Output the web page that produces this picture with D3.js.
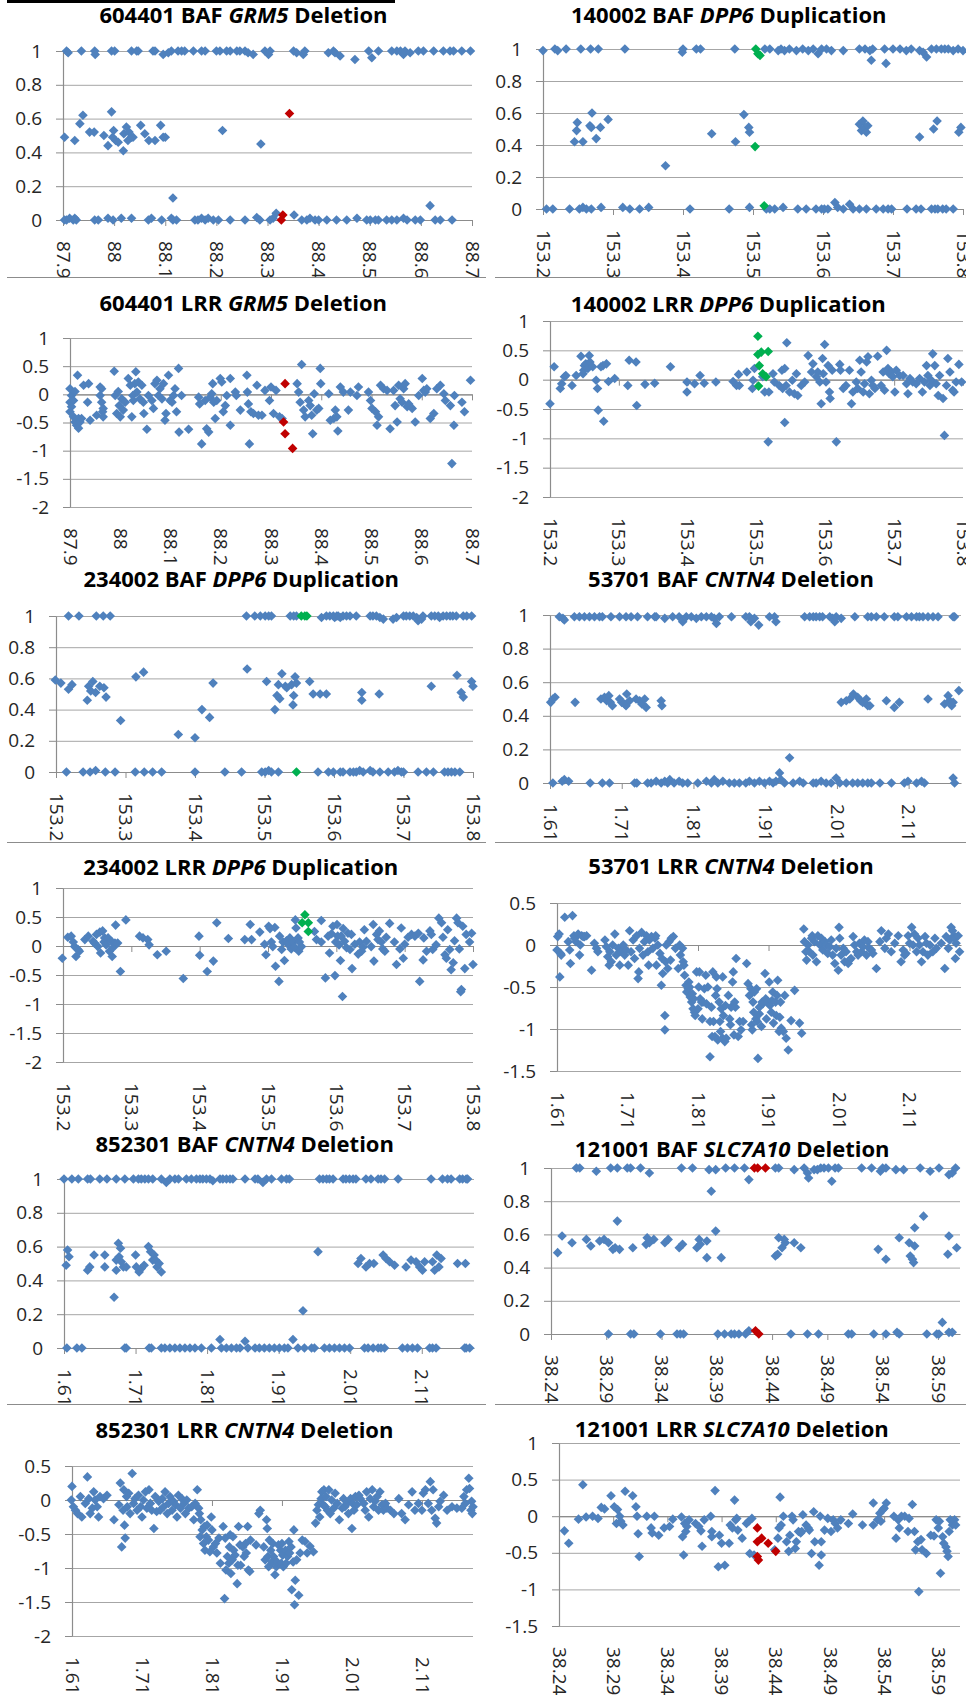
<!DOCTYPE html>
<html>
<head>
<meta charset="utf-8">
<script src="https://cdn.jsdelivr.net/npm/d3@7"></script>
<style>
  html, body { margin: 0; padding: 0; background: #fff; }
  svg { display: block; }
</style>
</head>
<body>
<svg id="fig" width="966" height="1696"></svg>
<script>
// ---------- tick values ----------
const ticksBAF = [0, 0.2, 0.4, 0.6, 0.8, 1];
const ticksLRR = [-2, -1.5, -1, -0.5, 0, 0.5, 1];
const ticksLRR53701 = [-1.5, -1, -0.5, 0, 0.5];
const ticksLRR852301 = [-2, -1.5, -1, -0.5, 0, 0.5];
const ticksLRR121001 = [-1.5, -1, -0.5, 0, 0.5, 1];
const ticksGRM5 = [87.9, 88, 88.1, 88.2, 88.3, 88.4, 88.5, 88.6, 88.7];
const ticksDPP6 = [153.2, 153.3, 153.4, 153.5, 153.6, 153.7, 153.8];
const ticksCNTN4 = [1.61, 1.71, 1.81, 1.91, 2.01, 2.11];
const ticksSLC7A10 = [38.24, 38.29, 38.34, 38.39, 38.44, 38.49, 38.54, 38.59];

// ---------- panel titles: [sample + metric, gene, event] ----------
const titles = [
  ["604401 BAF ", "GRM5", " Deletion"],
  ["140002 BAF ", "DPP6", " Duplication"],
  ["604401 LRR ", "GRM5", " Deletion"],
  ["140002 LRR ", "DPP6", " Duplication"],
  ["234002 BAF ", "DPP6", " Duplication"],
  ["53701 BAF ", "CNTN4", " Deletion"],
  ["234002 LRR ", "DPP6", " Duplication"],
  ["53701 LRR ", "CNTN4", " Deletion"],
  ["852301 BAF ", "CNTN4", " Deletion"],
  ["121001 BAF ", "SLC7A10", " Deletion"],
  ["852301 LRR ", "CNTN4", " Deletion"],
  ["121001 LRR ", "SLC7A10", " Deletion"]
];

// ---------- 604401 GRM5 (position Mb, value) ----------
const baf604401 = [
  [87.907,1],[87.910,0.99],[87.936,1],[87.962,1],[87.963,0.98],[87.995,1],[88.001,1],[88.034,1],[88.044,1],[88.047,1],[88.076,1],[88.080,1],[88.096,0.98],[88.106,0.99],[88.112,1],[88.125,1],[88.132,1],[88.138,1],[88.155,1],[88.171,1],[88.178,1],[88.200,1],[88.207,1],[88.220,1],[88.227,1],[88.240,1],[88.246,1],[88.256,1],[88.262,0.99],[88.272,0.98],[88.295,1],[88.302,0.98],[88.305,1],[88.351,1],[88.357,0.99],[88.370,0.98],[88.373,1],[88.419,0.99],[88.429,1],[88.432,0.99],[88.442,0.97],[88.471,0.95],[88.498,1],[88.504,0.96],[88.517,1],[88.543,1],[88.553,1],[88.560,1],[88.566,0.98],[88.569,1],[88.579,0.99],[88.595,1],[88.605,1],[88.625,1],[88.644,1],[88.657,1],[88.664,1],[88.680,1],[88.697,1],
  [87.903,0.49],[87.923,0.47],[87.933,0.57],[87.939,0.62],[87.952,0.52],[87.961,0.52],[87.980,0.50],[87.988,0.44],[87.995,0.64],[87.997,0.49],[87.999,0.53],[88.003,0.47],[88.008,0.46],[88.018,0.41],[88.019,0.51],[88.024,0.55],[88.027,0.47],[88.029,0.52],[88.034,0.49],[88.037,0.49],[88.052,0.56],[88.060,0.51],[88.068,0.47],[88.080,0.47],[88.091,0.56],[88.096,0.49],[88.100,0.49],[88.212,0.53],[88.287,0.45],[88.115,0.13],[88.317,0.04],[88.352,0.03],[88.618,0.085],
  [87.903,0],[87.907,0],[87.913,0.01],[87.920,0],[87.923,0.01],[87.926,0],[87.962,0],[87.969,0],[87.988,0.01],[87.998,0],[88.014,0.01],[88.034,0.01],[88.067,0],[88.073,0.01],[88.093,0],[88.112,0.01],[88.115,0],[88.122,0],[88.158,0],[88.164,0],[88.171,0.01],[88.178,0],[88.184,0.01],[88.194,0],[88.204,0],[88.227,0],[88.256,0],[88.279,0.015],[88.285,0],[88.305,0],[88.311,0.01],[88.367,0],[88.377,0],[88.383,0.01],[88.393,0],[88.400,0],[88.416,0],[88.435,0],[88.455,0],[88.475,0.01],[88.494,0],[88.501,0],[88.511,0],[88.517,0],[88.533,0],[88.543,0],[88.553,0],[88.566,0.01],[88.573,0],[88.589,0],[88.599,0],[88.628,0],[88.638,0],[88.661,0]
];
const baf604401Cnv = [[88.343,0.63],[88.330,0.03],[88.327,0]];

const lrr604401 = [
  [87.900,0.10],[87.903,-0.02],[87.900,-0.14],[87.903,-0.22],[87.900,-0.31],[87.907,-0.40],[87.910,-0.49],[87.913,-0.55],[87.917,-0.60],[87.910,0.05],[87.907,-0.11],[87.915,0.34],[87.917,-0.43],[87.920,-0.49],[87.923,-0.43],[87.927,0.16],[87.935,-0.14],[87.937,0.19],[87.940,-0.46],[87.953,-0.37],[87.960,-0.02],[87.963,0.10],[87.965,-0.31],[87.966,-0.40],[87.960,0.13],[87.963,-0.14],[87.966,-0.25],[87.988,0.41],[87.990,-0.02],[87.993,-0.34],[87.996,0.05],[87.998,-0.20],[88.000,-0.40],[88.003,-0.08],[88.006,-0.28],[88.010,-0.14],[88.016,0.28],[88.020,0.16],[88.023,-0.40],[88.025,-0.02],[88.026,-0.11],[88.029,0.19],[88.031,0.40],[88.033,0.04],[88.036,0.22],[88.039,-0.08],[88.043,0.16],[88.046,-0.14],[88.047,-0.34],[88.053,-0.62],[88.056,-0.02],[88.063,-0.11],[88.066,-0.25],[88.069,0.19],[88.073,0.25],[88.076,-0.02],[88.079,0.10],[88.083,-0.08],[88.086,0.19],[88.089,-0.46],[88.091,-0.34],[88.096,0.34],[88.099,-0.11],[88.103,-0.14],[88.106,-0.02],[88.109,0.10],[88.112,-0.31],[88.116,0.46],[88.117,-0.67],[88.122,-0.02],[88.136,-0.62],[88.156,-0.05],[88.158,-0.17],[88.162,-0.88],[88.169,-0.11],[88.172,-0.61],[88.176,-0.67],[88.179,-0.05],[88.182,0.01],[88.184,0.19],[88.186,-0.14],[88.189,-0.43],[88.192,-0.11],[88.199,0.28],[88.202,0.22],[88.205,-0.31],[88.209,-0.20],[88.212,-0.02],[88.219,0.28],[88.219,-0.55],[88.229,0.04],[88.231,-0.02],[88.239,-0.28],[88.252,0.34],[88.253,0.04],[88.255,-0.17],[88.257,-0.88],[88.260,-0.31],[88.265,-0.34],[88.272,0.16],[88.275,-0.37],[88.282,-0.37],[88.288,0.07],[88.297,-0.11],[88.300,0.13],[88.305,-0.34],[88.310,0.07],[88.317,-0.40],[88.322,-0.43],[88.352,0.19],[88.355,0.04],[88.358,-0.14],[88.361,0.53],[88.365,-0.28],[88.368,-0.40],[88.375,-0.11],[88.378,-0.20],[88.381,-0.37],[88.383,-0.70],[88.386,0.01],[88.391,-0.28],[88.395,-0.25],[88.398,0.46],[88.399,0.19],[88.415,0.01],[88.418,-0.46],[88.425,-0.43],[88.428,-0.28],[88.431,-0.40],[88.433,-0.65],[88.438,0.13],[88.444,0.04],[88.454,-0.28],[88.458,0.04],[88.471,-0.02],[88.474,0.13],[88.494,0.04],[88.498,-0.11],[88.501,-0.25],[88.508,-0.31],[88.511,-0.55],[88.514,-0.40],[88.518,0.16],[88.524,0.10],[88.531,0.07],[88.537,-0.61],[88.544,0.07],[88.547,-0.20],[88.551,-0.49],[88.554,0.16],[88.557,-0.08],[88.561,-0.14],[88.564,0.10],[88.567,0.19],[88.571,-0.22],[88.574,-0.17],[88.581,-0.25],[88.587,-0.49],[88.594,-0.02],[88.601,0.28],[88.604,0.07],[88.607,0.04],[88.610,0.10],[88.617,-0.43],[88.624,-0.34],[88.630,0.10],[88.637,0.16],[88.644,0.01],[88.647,-0.11],[88.657,-0.20],[88.660,-1.23],[88.664,-0.55],[88.665,-0.02],[88.680,-0.14],[88.685,-0.31],[88.697,0.25]
];
const lrr604401Cnv = [[88.325,-0.49],[88.328,0.19],[88.328,-0.70],[88.343,-0.96]];

// ---------- 140002 DPP6 ----------
const baf140002 = [
  [153.200,0.99],[153.217,1],[153.221,0.99],[153.233,1],[153.254,1],[153.268,1],[153.279,1],[153.317,1],[153.399,0.98],[153.400,1],[153.419,1],[153.425,1],[153.474,1],[153.517,1],[153.524,1],[153.536,0.99],[153.540,1],[153.545,0.99],[153.552,1],[153.562,0.99],[153.571,1],[153.579,0.99],[153.586,1],[153.593,0.97],[153.598,1],[153.605,1],[153.612,0.99],[153.629,0.99],[153.652,1],[153.660,1],[153.667,0.99],[153.669,0.93],[153.671,1],[153.688,1],[153.690,0.91],[153.700,1],[153.710,1],[153.719,0.99],[153.726,1],[153.738,0.99],[153.743,0.98],[153.748,0.95],[153.755,1],[153.762,1],[153.769,1],[153.774,1],[153.779,1],[153.786,0.99],[153.793,1],[153.800,0.99],
  [153.245,0.42],[153.248,0.49],[153.249,0.54],[153.257,0.42],[153.267,0.52],[153.269,0.51],[153.270,0.60],[153.276,0.44],[153.282,0.51],[153.293,0.56],[153.375,0.27],[153.441,0.47],[153.475,0.42],[153.487,0.59],[153.494,0.51],[153.495,0.48],[153.652,0.53],[153.655,0.49],[153.657,0.55],[153.660,0.51],[153.662,0.48],[153.664,0.52],[153.738,0.45],[153.758,0.50],[153.763,0.55],[153.794,0.48],[153.797,0.51],
  [153.205,0],[153.214,0],[153.238,0],[153.252,0],[153.257,0.01],[153.262,0],[153.269,0],[153.283,0.01],[153.314,0.01],[153.324,0],[153.338,0],[153.351,0.01],[153.410,0],[153.466,0],[153.495,0.01],[153.519,0],[153.524,0],[153.531,0],[153.543,0.01],[153.564,0],[153.576,0],[153.590,0],[153.598,0],[153.602,0],[153.607,0],[153.617,0.04],[153.621,0.01],[153.629,0],[153.638,0.03],[153.643,0],[153.652,0],[153.662,0],[153.676,0],[153.686,0],[153.693,0],[153.698,0],[153.720,0],[153.733,0],[153.740,0],[153.755,0],[153.760,0],[153.764,0],[153.771,0],[153.776,0],[153.786,0]
];
const baf140002Cnv = [[153.504,1],[153.507,0.97],[153.510,0.96],[153.503,0.39],[153.516,0.02]];

const lrr140002 = [
  [153.200,-0.41],[153.206,0.22],[153.215,-0.15],[153.217,-0.07],[153.221,0.05],[153.223,0.07],[153.232,-0.10],[153.238,0.07],[153.245,0.40],[153.248,0.10],[153.249,0.16],[153.250,0.24],[153.252,0.27],[153.255,0.19],[153.257,0.41],[153.258,0.30],[153.262,0.22],[153.267,-0.01],[153.269,-0.15],[153.270,-0.52],[153.274,0.22],[153.277,0.24],[153.278,-0.71],[153.282,0.27],[153.285,-0.03],[153.294,0.02],[153.313,-0.10],[153.315,0.33],[153.325,0.30],[153.326,-0.44],[153.338,-0.08],[153.352,-0.06],[153.375,0.22],[153.399,-0.04],[153.399,-0.21],[153.410,-0.07],[153.418,0.07],[153.424,-0.06],[153.441,-0.04],[153.466,-0.03],[153.471,-0.10],[153.474,0.09],[153.475,-0.10],[153.486,0.13],[153.494,-0.15],[153.495,-0.01],[153.497,0.19],[153.509,0.05],[153.512,-0.21],[153.517,-1.06],[153.518,-0.21],[153.524,0.10],[153.526,-0.04],[153.533,-0.10],[153.537,0.16],[153.538,-0.15],[153.541,0.19],[153.541,-0.73],[153.543,-0.10],[153.544,0.63],[153.548,-0.21],[153.552,-0.01],[153.555,-0.24],[153.558,0.10],[153.560,-0.27],[153.565,-0.10],[153.570,-0.04],[153.575,0.41],[153.580,0.13],[153.582,0.27],[153.587,0.05],[153.589,0.13],[153.592,-0.04],[153.594,-0.41],[153.596,0.36],[153.597,0.10],[153.599,0.60],[153.601,-0.04],[153.604,0.24],[153.606,-0.21],[153.607,-0.32],[153.610,0.16],[153.616,-1.06],[153.621,0.26],[153.622,0.16],[153.626,-0.15],[153.630,-0.10],[153.635,0.16],[153.638,-0.41],[153.640,-0.21],[153.645,-0.04],[153.647,-0.15],[153.650,0.33],[153.652,0.13],[153.655,-0.21],[153.657,-0.07],[153.660,0.30],[153.662,0.39],[153.664,-0.24],[153.667,-0.01],[153.669,-0.10],[153.672,-0.15],[153.676,0.40],[153.681,-0.10],[153.684,0.13],[153.686,-0.18],[153.689,0.50],[153.691,0.19],[153.693,0.10],[153.696,0.13],[153.698,0.05],[153.701,-0.21],[153.703,0.16],[153.708,0.07],[153.713,0.07],[153.718,-0.07],[153.720,-0.24],[153.723,0.02],[153.727,-0.04],[153.732,-0.07],[153.737,0.02],[153.741,-0.21],[153.744,-0.04],[153.747,0.24],[153.749,0.07],[153.752,-0.10],[153.754,-0.01],[153.756,0.44],[153.759,0.24],[153.761,-0.07],[153.764,-0.27],[153.766,0.07],[153.771,-0.32],[153.773,-0.95],[153.776,-0.10],[153.778,0.36],[153.781,0.13],[153.785,-0.18],[153.787,-0.21],[153.790,-0.04],[153.794,0.26],[153.798,-0.04]
];
const lrr140002Cnv = [[153.502,0.74],[153.502,0.43],[153.507,0.47],[153.517,0.48],[153.504,0.24],[153.509,0.10],[153.514,0.05],[153.503,-0.11]];

// ---------- 234002 DPP6 ----------
const baf234002 = [
  [153.218,1],[153.233,1],[153.258,1],[153.268,1],[153.278,1],[153.474,1],[153.486,1],[153.494,1],[153.501,1],[153.506,1],[153.510,1],[153.537,1],[153.542,1],[153.546,1],[153.582,0.99],[153.589,1],[153.594,1],[153.599,1],[153.601,0.99],[153.604,1],[153.606,1],[153.609,0.99],[153.613,1],[153.618,1],[153.623,1],[153.632,1],[153.652,1],[153.656,1],[153.661,1],[153.666,0.99],[153.671,0.98],[153.685,0.98],[153.690,0.99],[153.700,1],[153.704,1],[153.709,1],[153.714,1],[153.719,0.99],[153.721,0.97],[153.726,0.98],[153.728,1],[153.740,1],[153.745,1],[153.750,1],[153.752,0.99],[153.757,1],[153.762,1],[153.767,1],[153.771,1],[153.776,1],[153.786,1],[153.791,1],[153.798,1],
  [153.199,0.59],[153.207,0.57],[153.218,0.53],[153.223,0.56],[153.245,0.46],[153.247,0.55],[153.250,0.52],[153.253,0.58],[153.257,0.51],[153.263,0.55],[153.269,0.54],[153.272,0.48],[153.293,0.33],[153.315,0.61],[153.326,0.64],[153.376,0.24],[153.400,0.22],[153.410,0.40],[153.421,0.35],[153.426,0.57],[153.475,0.66],[153.503,0.58],[153.515,0.40],[153.518,0.49],[153.520,0.56],[153.522,0.47],[153.525,0.63],[153.530,0.55],[153.532,0.54],[153.539,0.56],[153.541,0.43],[153.542,0.49],[153.544,0.61],[153.546,0.57],[153.565,0.58],[153.570,0.50],[153.580,0.50],[153.589,0.50],[153.640,0.51],[153.640,0.46],[153.665,0.50],[153.740,0.55],[153.777,0.62],[153.783,0.51],[153.786,0.48],[153.798,0.58],[153.800,0.55],
  [153.215,0],[153.239,0],[153.249,0],[153.257,0.01],[153.271,0],[153.285,0],[153.314,0],[153.327,0],[153.339,0],[153.352,0],[153.400,0],[153.443,0],[153.467,0],[153.496,0],[153.501,0],[153.506,0.01],[153.510,0],[153.520,0],[153.577,0],[153.592,0],[153.599,0],[153.609,0],[153.613,0],[153.623,0],[153.628,0],[153.632,0],[153.637,0.01],[153.642,0],[153.652,0.01],[153.656,0],[153.666,0],[153.678,0],[153.687,0],[153.692,0.01],[153.697,0],[153.700,0],[153.721,0],[153.733,0],[153.743,0],[153.759,0],[153.764,0],[153.769,0],[153.774,0],[153.781,0]
];
const baf234002Cnv = [[153.553,1],[153.558,1],[153.561,1],[153.546,0]];

const lrr234002 = [
  [153.199,-0.21],[153.207,0.15],[153.212,0.17],[153.215,0.07],[153.217,-0.01],[153.219,-0.18],[153.222,-0.06],[153.224,-0.09],[153.232,0.11],[153.237,0.17],[153.244,0.08],[153.246,0.05],[153.249,0.20],[153.251,-0.01],[153.254,0.24],[153.255,-0.12],[153.258,0.26],[153.260,0.07],[153.261,0.14],[153.263,0.02],[153.266,0.14],[153.268,-0.09],[153.271,0.08],[153.272,-0.18],[153.273,-0.03],[153.276,0.05],[153.277,0.36],[153.280,0.05],[153.284,-0.44],[153.292,0.45],[153.312,0.17],[153.317,0.14],[153.324,0.11],[153.326,0.02],[153.338,-0.15],[153.351,-0.09],[153.376,-0.56],[153.399,0.17],[153.400,-0.16],[153.411,-0.44],[153.420,-0.26],[153.425,0.40],[153.442,0.13],[153.466,0.11],[153.474,0.37],[153.476,0.11],[153.488,0.24],[153.495,0.03],[153.497,-0.15],[153.501,0.34],[153.503,0.30],[153.505,0.07],[153.507,-0.01],[153.510,0.32],[153.511,-0.35],[153.516,-0.61],[153.517,0.17],[153.520,-0.06],[153.522,0.07],[153.524,-0.25],[153.527,0.09],[153.529,0.03],[153.532,0.14],[153.534,-0.05],[153.537,0.07],[153.539,-0.02],[153.540,0.45],[153.541,0.31],[153.544,0.14],[153.545,-0.09],[153.546,0.07],[153.549,-0.01],[153.568,0.25],[153.571,0.11],[153.578,0.44],[153.578,0.07],[153.584,-0.55],[153.588,0.17],[153.590,-0.12],[153.593,0.21],[153.595,0.34],[153.598,-0.51],[153.599,0.07],[153.601,0.37],[153.602,0.17],[153.604,0.02],[153.606,-0.25],[153.607,0.17],[153.609,-0.87],[153.610,0.30],[153.612,0.08],[153.615,-0.03],[153.617,0.22],[153.620,-0.06],[153.622,0.20],[153.623,-0.39],[153.627,0.03],[153.632,-0.14],[153.634,0.07],[153.637,-0.09],[153.639,-0.02],[153.641,0.28],[153.644,0.08],[153.651,-0.01],[153.654,0.37],[153.655,-0.26],[153.659,0.20],[153.661,0.11],[153.663,0.26],[153.666,0.07],[153.668,-0.05],[153.671,-0.09],[153.673,0.15],[153.678,0.39],[153.685,0.07],[153.688,-0.32],[153.693,-0.05],[153.695,0.31],[153.698,-0.21],[153.700,0.03],[153.705,0.15],[153.710,0.20],[153.715,0.17],[153.720,0.22],[153.722,-0.61],[153.727,-0.24],[153.728,0.14],[153.732,-0.09],[153.737,0.26],[153.739,0.20],[153.741,-0.06],[153.746,0.02],[153.750,0.48],[153.754,0.40],[153.756,0.15],[153.759,-0.15],[153.761,-0.21],[153.763,0.28],[153.766,-0.06],[153.768,-0.41],[153.771,-0.29],[153.773,0.09],[153.776,0.48],[153.778,0.40],[153.780,-0.05],[153.783,-0.75],[153.782,-0.79],[153.785,0.34],[153.788,-0.39],[153.790,0.20],[153.795,0.07],[153.798,0.22],[153.800,-0.32]
];
const lrr234002Cnv = [[153.554,0.54],[153.550,0.40],[153.559,0.40],[153.559,0.25]];

// ---------- 53701 CNTN4 ----------
const baf53701 = [
  [1.623,0.99],[1.628,0.98],[1.630,0.97],[1.644,0.99],[1.651,0.99],[1.658,0.99],[1.665,0.99],[1.672,0.99],[1.679,0.99],[1.683,0.99],[1.695,0.99],[1.707,0.99],[1.716,0.99],[1.723,0.99],[1.732,0.99],[1.746,0.99],[1.756,0.99],[1.758,0.99],[1.770,0.98],[1.781,0.99],[1.790,0.99],[1.795,0.96],[1.800,0.99],[1.807,0.99],[1.814,0.98],[1.821,0.99],[1.828,0.99],[1.835,0.99],[1.839,0.98],[1.842,0.95],[1.846,0.99],[1.863,0.99],[1.883,0.99],[1.888,0.99],[1.890,0.96],[1.895,0.98],[1.901,0.94],[1.916,0.99],[1.923,0.99],[1.925,0.96],[1.965,0.99],[1.972,0.99],[1.977,0.99],[1.981,0.99],[1.986,0.99],[1.990,0.99],[2.000,0.99],[2.004,0.98],[2.007,0.96],[2.009,0.99],[2.016,0.98],[2.035,0.99],[2.053,0.99],[2.058,0.99],[2.065,0.99],[2.076,0.99],[2.090,0.99],[2.095,0.99],[2.107,0.99],[2.114,0.99],[2.121,0.99],[2.125,0.99],[2.130,0.99],[2.137,0.99],[2.144,0.99],[2.151,0.99],[2.172,0.99],[2.174,0.99],
  [1.611,0.48],[1.614,0.50],[1.617,0.51],[1.645,0.48],[1.681,0.50],[1.686,0.51],[1.689,0.49],[1.692,0.52],[1.694,0.48],[1.697,0.46],[1.707,0.50],[1.710,0.48],[1.714,0.47],[1.717,0.53],[1.716,0.46],[1.721,0.49],[1.730,0.50],[1.735,0.49],[1.738,0.47],[1.742,0.50],[1.744,0.45],[1.765,0.49],[1.766,0.46],[2.016,0.48],[2.023,0.49],[2.028,0.50],[2.033,0.53],[2.039,0.51],[2.043,0.49],[2.046,0.48],[2.051,0.50],[2.053,0.46],[2.056,0.46],[2.079,0.49],[2.090,0.45],[2.097,0.48],[2.137,0.50],[2.160,0.47],[2.165,0.52],[2.167,0.49],[2.170,0.46],[2.172,0.48],[2.180,0.55],[1.930,0.06],[1.944,0.15],
  [1.614,0],[1.627,0.01],[1.630,0.02],[1.636,0.01],[1.666,0],[1.683,0],[1.693,0],[1.728,0],[1.731,0],[1.746,0],[1.751,0],[1.758,0.01],[1.765,0],[1.770,0.01],[1.774,0],[1.777,0.02],[1.783,0],[1.790,0.01],[1.795,0],[1.802,0],[1.816,0],[1.828,0.01],[1.835,0],[1.839,0.02],[1.844,0],[1.851,0.01],[1.860,0],[1.867,0],[1.874,0],[1.883,0],[1.888,0.01],[1.895,0],[1.902,0.01],[1.909,0],[1.916,0.01],[1.921,0],[1.925,0.01],[1.932,0.02],[1.937,0],[1.949,0],[1.958,0.01],[1.963,0],[1.977,0],[1.981,0],[1.988,0.01],[1.995,0],[2.002,0],[2.009,0.03],[2.014,0],[2.023,0],[2.032,0],[2.039,0],[2.046,0],[2.053,0],[2.058,0],[2.070,0],[2.086,0],[2.104,0],[2.109,0.01],[2.121,0],[2.128,0.01],[2.132,0],[2.172,0.03],[2.174,0]
];

const lrr53701 = [
  [1.610,-0.06],[1.611,0.10],[1.613,0.13],[1.614,-0.38],[1.615,-0.10],[1.616,-0.12],[1.621,0.33],[1.626,0.04],[1.628,-0.06],[1.629,-0.22],[1.632,0.35],[1.634,0.11],[1.635,0.08],[1.637,0.04],[1.640,0.13],[1.642,-0.12],[1.643,0.00],[1.645,0.11],[1.647,0.10],[1.649,0.10],[1.652,0.11],[1.659,-0.30],[1.663,0.02],[1.666,-0.04],[1.668,-0.08],[1.678,0.06],[1.680,-0.02],[1.682,-0.14],[1.684,-0.24],[1.685,-0.08],[1.687,-0.20],[1.689,0.00],[1.692,0.13],[1.694,-0.12],[1.697,-0.04],[1.699,-0.24],[1.701,-0.08],[1.704,0.00],[1.706,-0.12],[1.708,-0.06],[1.711,-0.24],[1.713,0.17],[1.715,-0.08],[1.718,0.06],[1.720,-0.16],[1.723,0.11],[1.725,-0.40],[1.726,-0.32],[1.727,-0.04],[1.730,0.15],[1.732,-0.12],[1.734,0.04],[1.737,0.11],[1.739,-0.08],[1.740,-0.24],[1.741,0.06],[1.744,0.10],[1.746,-0.04],[1.749,0.08],[1.750,0.11],[1.751,-0.24],[1.753,0.00],[1.756,-0.10],[1.758,-0.48],[1.759,-0.16],[1.760,-0.34],[1.763,-0.84],[1.763,-1.01],[1.764,-0.20],[1.765,0.00],[1.767,-0.28],[1.769,0.04],[1.771,-0.18],[1.772,0.08],[1.775,0.10],[1.778,-0.04],[1.782,-0.28],[1.784,0.00],[1.785,-0.12],[1.788,-0.04],[1.789,-0.20],[1.790,-0.24],[1.791,-0.36],[1.793,-0.48],[1.794,-0.56],[1.796,-0.52],[1.797,-0.44],[1.798,-0.50],[1.799,-0.62],[1.801,-0.68],[1.802,-0.58],[1.803,-0.76],[1.804,-0.64],[1.805,-0.80],[1.806,-0.84],[1.808,-0.32],[1.810,-0.76],[1.811,-0.50],[1.812,-0.32],[1.813,-0.64],[1.815,-0.68],[1.816,-0.88],[1.817,-0.68],[1.819,-0.52],[1.821,-0.36],[1.822,-0.70],[1.824,-0.50],[1.827,-1.33],[1.827,-0.91],[1.829,-0.74],[1.830,-1.09],[1.831,-0.32],[1.832,-0.91],[1.834,-1.09],[1.835,-0.60],[1.836,-0.38],[1.837,-0.52],[1.838,-1.13],[1.840,-0.68],[1.841,-0.91],[1.842,-1.03],[1.843,-0.76],[1.845,-1.11],[1.845,-0.38],[1.846,-0.84],[1.848,-1.15],[1.849,-0.72],[1.850,-1.11],[1.853,-0.60],[1.855,-0.88],[1.856,-0.95],[1.857,-0.74],[1.859,-0.44],[1.860,-0.32],[1.861,-1.07],[1.862,-0.68],[1.863,-0.74],[1.864,-0.16],[1.867,-1.09],[1.869,-0.91],[1.871,-1.01],[1.874,-0.91],[1.879,-0.22],[1.881,-0.46],[1.883,-0.60],[1.885,-0.52],[1.886,-0.95],[1.887,-1.01],[1.888,-0.68],[1.889,-0.80],[1.890,-0.56],[1.892,-0.88],[1.893,-0.52],[1.894,-0.91],[1.895,-1.35],[1.897,-0.74],[1.897,-0.82],[1.900,-0.97],[1.901,-0.68],[1.902,-0.70],[1.905,-0.34],[1.906,-0.64],[1.907,-0.88],[1.909,-0.68],[1.911,-0.44],[1.912,-0.72],[1.914,-0.80],[1.915,-0.66],[1.916,-0.56],[1.917,-0.93],[1.920,-0.68],[1.921,-0.84],[1.922,-0.60],[1.923,-0.42],[1.925,-1.03],[1.926,-0.86],[1.927,-0.68],[1.928,-0.99],[1.931,-1.03],[1.933,-0.60],[1.935,-1.11],[1.938,-1.25],[1.942,-0.90],[1.947,-0.54],[1.954,-0.93],[1.957,-1.05],
  [1.960,0.19],[1.961,0.04],[1.963,-0.08],[1.964,-0.18],[1.966,0.00],[1.968,-0.08],[1.971,0.08],[1.972,0.11],[1.973,-0.12],[1.975,0.04],[1.978,-0.20],[1.980,0.11],[1.983,0.00],[1.985,0.08],[1.987,-0.06],[1.990,0.04],[1.992,0.00],[1.994,-0.10],[1.997,-0.02],[1.999,0.06],[2.001,-0.12],[2.004,-0.22],[2.006,-0.04],[2.009,-0.30],[2.010,0.21],[2.011,0.08],[2.013,-0.12],[2.016,-0.04],[2.018,-0.20],[2.020,-0.08],[2.023,-0.22],[2.025,-0.18],[2.027,-0.16],[2.030,0.10],[2.032,0.00],[2.035,-0.08],[2.037,-0.12],[2.039,0.02],[2.042,-0.08],[2.044,-0.02],[2.046,0.06],[2.049,-0.12],[2.051,0.04],[2.053,-0.04],[2.056,-0.06],[2.058,-0.10],[2.063,-0.28],[2.068,0.04],[2.070,0.17],[2.075,-0.04],[2.077,0.08],[2.080,0.13],[2.084,-0.08],[2.089,0.02],[2.094,0.11],[2.098,-0.20],[2.101,-0.06],[2.103,-0.12],[2.105,-0.10],[2.108,0.11],[2.110,0.02],[2.113,0.21],[2.115,0.00],[2.117,0.13],[2.120,-0.08],[2.122,0.08],[2.124,0.00],[2.127,-0.20],[2.129,-0.08],[2.132,0.10],[2.134,0.02],[2.136,-0.12],[2.139,0.00],[2.143,-0.08],[2.146,0.08],[2.148,-0.04],[2.155,0.02],[2.160,-0.28],[2.162,0.10],[2.165,-0.04],[2.167,0.06],[2.169,0.21],[2.171,0.17],[2.173,0.11],[2.174,0.08],[2.175,-0.16],[2.176,0.02],[2.179,0.11],[2.181,-0.08]
];

// ---------- 852301 CNTN4 ----------
const baf852301 = [
  [1.610,1],[1.621,1],[1.630,1],[1.643,1],[1.647,1],[1.660,1],[1.670,1],[1.683,1],[1.695,1],[1.707,1],[1.714,1],[1.718,1],[1.723,1],[1.728,1],[1.734,1],[1.746,1],[1.753,0.98],[1.758,1],[1.765,1],[1.770,1],[1.781,1],[1.788,1],[1.795,1],[1.800,1],[1.804,1],[1.809,1],[1.814,1],[1.818,0.99],[1.828,1],[1.832,1],[1.837,1],[1.842,1],[1.846,1],[1.863,1],[1.877,1],[1.881,1],[1.888,0.98],[1.893,1],[1.900,1],[1.914,1],[1.921,1],[1.925,1],[1.967,1],[1.972,1],[1.977,1],[1.981,1],[1.986,1],[2.000,1],[2.004,1],[2.009,1],[2.014,1],[2.018,1],[2.032,1],[2.039,1],[2.049,1],[2.053,1],[2.058,1],[2.077,1],[2.123,1],[2.139,1],[2.146,1],[2.151,1],[2.163,1],[2.167,1],[2.172,1],[2.174,1],
  [1.613,0.49],[1.615,0.58],[1.617,0.54],[1.643,0.46],[1.646,0.48],[1.652,0.55],[1.667,0.55],[1.667,0.48],[1.680,0.30],[1.683,0.46],[1.683,0.52],[1.686,0.62],[1.687,0.54],[1.689,0.59],[1.690,0.51],[1.693,0.48],[1.697,0.48],[1.710,0.55],[1.711,0.48],[1.715,0.45],[1.718,0.47],[1.722,0.49],[1.728,0.60],[1.731,0.57],[1.734,0.52],[1.736,0.55],[1.738,0.52],[1.740,0.48],[1.743,0.50],[1.746,0.45],[1.944,0.22],[1.965,0.57],[2.021,0.50],[2.025,0.53],[2.032,0.48],[2.037,0.50],[2.043,0.50],[2.056,0.55],[2.060,0.53],[2.065,0.51],[2.072,0.49],[2.088,0.48],[2.095,0.52],[2.102,0.51],[2.107,0.48],[2.111,0.46],[2.114,0.51],[2.125,0.51],[2.128,0.46],[2.131,0.55],[2.134,0.48],[2.137,0.53],[2.160,0.50],[2.171,0.50],
  [1.614,0],[1.628,0],[1.635,0],[1.695,0],[1.697,0],[1.729,0],[1.732,0],[1.746,0],[1.751,0],[1.758,0],[1.765,0],[1.772,0],[1.779,0],[1.786,0],[1.793,0],[1.802,0],[1.816,0],[1.828,0.05],[1.830,0],[1.837,0],[1.844,0],[1.851,0],[1.856,0],[1.863,0.04],[1.867,0],[1.877,0],[1.883,0],[1.890,0],[1.897,0],[1.904,0],[1.911,0],[1.918,0],[1.923,0],[1.930,0.05],[1.937,0],[1.946,0],[1.956,0],[1.960,0],[1.974,0],[1.981,0],[1.988,0],[1.995,0],[2.002,0],[2.009,0],[2.030,0],[2.035,0],[2.042,0],[2.049,0],[2.053,0],[2.058,0],[2.083,0],[2.090,0],[2.097,0],[2.104,0],[2.121,0],[2.125,0],[2.130,0],[2.170,0],[2.172,0],[2.177,0]
];

const lrr852301 = [
  [1.609,0.00],[1.610,0.20],[1.612,-0.10],[1.615,-0.15],[1.618,-0.20],[1.622,0.05],[1.624,-0.25],[1.629,-0.05],[1.632,0.34],[1.634,0.02],[1.636,-0.20],[1.639,-0.12],[1.641,0.12],[1.643,0.00],[1.646,-0.10],[1.648,-0.25],[1.650,0.05],[1.655,0.02],[1.660,0.07],[1.670,-0.29],[1.677,-0.07],[1.679,0.25],[1.681,-0.69],[1.683,-0.15],[1.684,0.15],[1.685,-0.37],[1.686,-0.56],[1.688,0.05],[1.689,-0.10],[1.691,0.10],[1.693,-0.20],[1.696,0.39],[1.698,-0.05],[1.700,0.02],[1.703,-0.15],[1.705,0.07],[1.708,-0.10],[1.710,-0.25],[1.712,0.00],[1.715,0.12],[1.717,-0.12],[1.720,0.15],[1.722,-0.05],[1.724,-0.15],[1.727,-0.42],[1.729,0.05],[1.731,-0.17],[1.734,-0.02],[1.736,-0.15],[1.739,0.02],[1.741,-0.10],[1.743,0.12],[1.746,-0.20],[1.748,-0.05],[1.750,0.05],[1.753,-0.15],[1.755,-0.02],[1.758,-0.07],[1.760,-0.25],[1.762,0.07],[1.765,-0.12],[1.767,0.02],[1.770,-0.05],[1.772,-0.20],[1.774,0.00],[1.777,-0.12],[1.781,-0.10],[1.784,-0.29],[1.786,-0.05],[1.789,0.15],[1.791,-0.12],[1.792,-0.20],[1.793,-0.54],[1.794,-0.29],[1.796,-0.44],[1.798,-0.64],[1.799,-0.39],[1.800,-0.74],[1.802,-0.54],[1.803,-0.37],[1.805,-0.59],[1.807,-0.76],[1.809,-0.25],[1.810,-0.44],[1.812,-0.69],[1.815,-0.64],[1.817,-0.78],[1.820,-0.56],[1.822,-0.93],[1.826,-0.39],[1.828,-1.45],[1.829,-0.56],[1.830,-1.03],[1.832,-0.83],[1.834,-0.93],[1.835,-0.69],[1.836,-0.51],[1.837,-1.08],[1.839,-0.88],[1.840,-0.54],[1.841,-0.74],[1.843,-0.81],[1.846,-1.23],[1.847,-0.96],[1.848,-0.39],[1.850,-0.66],[1.851,-0.96],[1.854,-0.69],[1.856,-0.83],[1.858,-0.64],[1.859,-0.78],[1.861,-0.39],[1.862,-1.03],[1.864,-1.05],[1.865,-0.59],[1.873,-0.66],[1.877,-0.20],[1.879,-0.15],[1.884,-0.69],[1.886,-0.88],[1.888,-0.29],[1.889,-0.42],[1.890,-0.83],[1.891,-0.98],[1.892,-0.59],[1.894,-0.74],[1.896,-0.91],[1.897,-0.64],[1.898,-0.83],[1.900,-1.10],[1.902,-0.98],[1.903,-0.91],[1.905,-0.66],[1.908,-0.74],[1.909,-0.93],[1.910,-0.64],[1.911,-0.81],[1.912,-0.98],[1.915,-0.74],[1.916,-0.93],[1.918,-0.83],[1.920,-0.61],[1.921,-0.78],[1.923,-0.69],[1.924,-1.32],[1.926,-0.91],[1.927,-0.44],[1.928,-1.54],[1.929,-1.18],[1.931,-0.88],[1.934,-1.40],[1.936,-0.78],[1.939,-0.59],[1.943,-0.61],[1.946,-0.78],[1.950,-0.68],[1.955,-0.76],
  [1.958,-0.34],[1.960,-0.15],[1.962,-0.07],[1.964,-0.25],[1.966,0.02],[1.967,0.12],[1.969,-0.07],[1.970,0.15],[1.972,-0.10],[1.973,0.05],[1.975,-0.15],[1.977,0.15],[1.979,-0.20],[1.981,0.00],[1.984,-0.12],[1.986,0.10],[1.989,-0.05],[1.992,-0.29],[1.996,-0.12],[1.998,0.02],[2.000,-0.10],[2.003,-0.05],[2.005,-0.20],[2.008,0.02],[2.010,-0.42],[2.011,-0.05],[2.013,-0.15],[2.015,0.05],[2.017,-0.07],[2.020,0.07],[2.022,0.02],[2.027,-0.05],[2.029,-0.15],[2.031,0.12],[2.034,-0.25],[2.036,0.02],[2.039,0.15],[2.041,-0.10],[2.043,-0.02],[2.046,0.05],[2.048,-0.15],[2.050,0.12],[2.053,-0.07],[2.055,-0.15],[2.058,-0.05],[2.060,-0.12],[2.065,-0.15],[2.070,-0.20],[2.077,0.02],[2.081,-0.20],[2.086,-0.29],[2.091,-0.07],[2.096,0.12],[2.100,-0.15],[2.105,-0.05],[2.110,-0.15],[2.112,0.10],[2.115,0.15],[2.119,-0.05],[2.122,0.27],[2.124,-0.15],[2.126,0.15],[2.129,-0.27],[2.131,-0.34],[2.134,-0.10],[2.136,-0.02],[2.141,0.07],[2.146,-0.15],[2.153,-0.10],[2.160,-0.12],[2.167,-0.12],[2.170,0.05],[2.172,-0.05],[2.174,0.15],[2.177,0.32],[2.178,0.17],[2.180,-0.15],[2.181,-0.02],[2.182,-0.20],[2.183,-0.10]
];

// ---------- 121001 SLC7A10 ----------
const baf121001 = [
  [38.263,1],[38.266,1],[38.281,0.98],[38.294,1],[38.300,1],[38.309,1],[38.312,1],[38.321,1],[38.329,0.97],[38.358,1],[38.368,1],[38.383,0.99],[38.385,0.86],[38.389,0.99],[38.398,1],[38.406,1],[38.415,1],[38.419,0.93],[38.443,1],[38.446,1],[38.460,0.99],[38.469,1],[38.472,0.97],[38.473,0.94],[38.478,0.99],[38.481,0.99],[38.484,1],[38.487,1],[38.491,1],[38.494,0.92],[38.497,1],[38.500,1],[38.521,1],[38.530,1],[38.538,0.98],[38.540,1],[38.543,1],[38.552,0.99],[38.559,0.99],[38.574,1],[38.583,0.98],[38.591,1],[38.600,0.96],[38.603,0.97],[38.606,1],
  [38.246,0.49],[38.250,0.59],[38.259,0.55],[38.272,0.57],[38.276,0.53],[38.284,0.56],[38.288,0.57],[38.292,0.55],[38.296,0.51],[38.298,0.52],[38.300,0.68],[38.302,0.51],[38.314,0.52],[38.326,0.54],[38.327,0.58],[38.329,0.55],[38.333,0.57],[38.343,0.55],[38.346,0.57],[38.356,0.52],[38.359,0.54],[38.372,0.52],[38.374,0.57],[38.375,0.54],[38.381,0.46],[38.381,0.56],[38.389,0.62],[38.394,0.46],[38.443,0.47],[38.445,0.48],[38.446,0.58],[38.449,0.52],[38.451,0.57],[38.452,0.55],[38.460,0.55],[38.466,0.52],[38.536,0.51],[38.543,0.45],[38.555,0.58],[38.564,0.55],[38.565,0.47],[38.567,0.45],[38.568,0.43],[38.569,0.53],[38.569,0.64],[38.577,0.71],[38.599,0.48],[38.600,0.59],[38.607,0.52],
  [38.292,0],[38.312,0],[38.315,0],[38.339,0],[38.354,0],[38.357,0],[38.360,0],[38.391,0],[38.397,0],[38.403,0],[38.406,0],[38.410,0],[38.416,0],[38.419,0.02],[38.457,0],[38.472,0],[38.482,0],[38.509,0],[38.512,0],[38.532,0],[38.543,0],[38.553,0.01],[38.555,0],[38.580,0],[38.589,0],[38.591,0],[38.594,0.07],[38.600,0.01],[38.603,0.01]
];
const baf121001Cnv = [[38.424,1],[38.427,1],[38.434,1],[38.425,0.02],[38.428,0]];

const lrr121001 = [
  [38.245,-0.20],[38.249,-0.37],[38.258,-0.04],[38.262,0.43],[38.265,-0.01],[38.271,0.00],[38.276,-0.03],[38.279,0.12],[38.282,0.10],[38.288,0.28],[38.291,0.13],[38.293,-0.10],[38.294,0.09],[38.296,0.00],[38.297,-0.07],[38.299,-0.12],[38.301,0.34],[38.308,0.28],[38.311,0.13],[38.312,0.00],[38.313,-0.24],[38.314,-0.55],[38.321,0.00],[38.325,-0.16],[38.326,-0.23],[38.328,0.00],[38.332,-0.26],[38.337,-0.16],[38.342,-0.14],[38.345,-0.04],[38.353,-0.01],[38.354,-0.28],[38.355,-0.53],[38.356,-0.10],[38.357,-0.21],[38.358,-0.14],[38.360,-0.05],[38.366,-0.10],[38.369,-0.14],[38.371,-0.20],[38.372,-0.41],[38.374,-0.05],[38.380,0.00],[38.381,-0.28],[38.381,-0.21],[38.384,0.35],[38.387,-0.69],[38.388,-0.26],[38.390,-0.37],[38.393,-0.67],[38.397,-0.37],[38.398,-0.12],[38.400,-0.16],[38.402,0.22],[38.403,-0.05],[38.404,-0.03],[38.405,-0.19],[38.409,-0.30],[38.413,-0.10],[38.415,-0.07],[38.416,-0.51],[38.418,-0.03],[38.420,-0.53],[38.439,-0.46],[38.442,-0.30],[38.443,-0.16],[38.444,0.26],[38.445,-0.12],[38.447,0.00],[38.450,-0.35],[38.452,-0.48],[38.453,-0.26],[38.455,0.00],[38.456,-0.05],[38.458,-0.44],[38.459,-0.35],[38.461,-0.21],[38.463,-0.23],[38.464,-0.21],[38.465,0.02],[38.468,-0.12],[38.470,-0.16],[38.471,-0.19],[38.473,-0.51],[38.475,0.06],[38.476,-0.35],[38.480,-0.67],[38.481,0.00],[38.482,-0.53],[38.482,-0.35],[38.485,-0.19],[38.488,-0.03],[38.491,-0.21],[38.493,-0.05],[38.495,-0.10],[38.497,-0.16],[38.500,-0.05],[38.507,-0.10],[38.511,0.03],[38.520,-0.12],[38.530,0.18],[38.530,-0.12],[38.534,-0.05],[38.536,0.04],[38.537,-0.07],[38.539,0.09],[38.540,0.11],[38.542,0.18],[38.549,0.00],[38.551,-0.30],[38.553,-0.05],[38.554,-0.16],[38.556,0.00],[38.559,0.00],[38.562,-0.21],[38.563,-0.03],[38.566,0.16],[38.568,-0.21],[38.569,-0.46],[38.571,-0.35],[38.572,-1.03],[38.574,-0.32],[38.575,-0.46],[38.579,-0.51],[38.583,-0.26],[38.586,-0.27],[38.588,-0.05],[38.590,-0.16],[38.591,-0.07],[38.592,-0.78],[38.594,-0.28],[38.595,-0.37],[38.597,-0.42],[38.598,-0.48],[38.599,-0.55],[38.600,-0.21],[38.601,-0.05],[38.603,-0.12],[38.605,-0.05],[38.606,-0.12]
];
const lrr121001Cnv = [[38.423,-0.16],[38.423,-0.35],[38.423,-0.55],[38.424,-0.60],[38.427,-0.30],[38.433,-0.37],[38.440,-0.48]];

// ---------- styling ----------
const BLUE = "#4F81BD";
const RED = "#C00000";
const GREEN = "#00B050";
const GRID = "#A6A6A6";
const AXIS = "#8C8C8C";
const FONT = "'Open Sans', 'Noto Sans', sans-serif";
const TICK_FS = 19;
const TITLE_FS = 22;
const fmt = d => String(+d.toFixed(3));

// pixel boxes for the twelve plot areas (left, right, top, bottom), title anchor and label clip
const panels = [
  { t: 0,  pts: baf604401, cnv: baf604401Cnv, cnvColor: RED,   xd: [87.9, 88.7],    xt: ticksGRM5,    yd: [0, 1],      yt: ticksBAF,       l: 63,  r: 472, top: 51,   b: 220,  tx: 243.5, ty: 22.7,   clip: 277 },
  { t: 1,  pts: baf140002, cnv: baf140002Cnv, cnvColor: GREEN, xd: [153.2, 153.8],  xt: ticksDPP6,    yd: [0, 1],      yt: ticksBAF,       l: 543, r: 963, top: 49,   b: 209,  tx: 728.7, ty: 23,     clip: 277 },
  { t: 2,  pts: lrr604401, cnv: lrr604401Cnv, cnvColor: RED,   xd: [87.9, 88.7],    xt: ticksGRM5,    yd: [-2, 1],     yt: ticksLRR,       l: 70,  r: 472, top: 338,  b: 507,  tx: 243.3, ty: 311,    clip: null },
  { t: 3,  pts: lrr140002, cnv: lrr140002Cnv, cnvColor: GREEN, xd: [153.2, 153.8],  xt: ticksDPP6,    yd: [-2, 1],     yt: ticksLRR,       l: 550, r: 963, top: 321,  b: 497,  tx: 728.3, ty: 311.7,  clip: null },
  { t: 4,  pts: baf234002, cnv: baf234002Cnv, cnvColor: GREEN, xd: [153.2, 153.8],  xt: ticksDPP6,    yd: [0, 1],      yt: ticksBAF,       l: 56,  r: 473, top: 616,  b: 772,  tx: 241.3, ty: 587.3,  clip: 842 },
  { t: 5,  pts: baf53701,  cnv: [],           cnvColor: RED,   xd: [1.61, 2.183],   xt: ticksCNTN4,   yd: [0, 1],      yt: ticksBAF,       l: 550, r: 961, top: 615,  b: 783,  tx: 731,   ty: 587.3,  clip: 842 },
  { t: 6,  pts: lrr234002, cnv: lrr234002Cnv, cnvColor: GREEN, xd: [153.2, 153.8],  xt: ticksDPP6,    yd: [-2, 1],     yt: ticksLRR,       l: 63,  r: 473, top: 888,  b: 1062, tx: 240.8, ty: 875,    clip: null },
  { t: 7,  pts: lrr53701,  cnv: [],           cnvColor: RED,   xd: [1.61, 2.183],   xt: ticksCNTN4,   yd: [-1.5, 0.5], yt: ticksLRR53701,  l: 557, r: 961, top: 903,  b: 1071, tx: 731,   ty: 874.3,  clip: null },
  { t: 8,  pts: baf852301, cnv: [],           cnvColor: RED,   xd: [1.61, 2.183],   xt: ticksCNTN4,   yd: [0, 1],      yt: ticksBAF,       l: 64,  r: 474, top: 1179, b: 1348, tx: 244.7, ty: 1151.7, clip: 1404 },
  { t: 9,  pts: baf121001, cnv: baf121001Cnv, cnvColor: RED,   xd: [38.24, 38.61],  xt: ticksSLC7A10, yd: [0, 1],      yt: ticksBAF,       l: 551, r: 960, top: 1168, b: 1334, tx: 732.2, ty: 1156.7, clip: 1403 },
  { t: 10, pts: lrr852301, cnv: [],           cnvColor: RED,   xd: [1.61, 2.183],   xt: ticksCNTN4,   yd: [-2, 0.5],   yt: ticksLRR852301, l: 72,  r: 473, top: 1466, b: 1636, tx: 244.5, ty: 1438.3, clip: null },
  { t: 11, pts: lrr121001, cnv: lrr121001Cnv, cnvColor: RED,   xd: [38.24, 38.61],  xt: ticksSLC7A10, yd: [-1.5, 1],   yt: ticksLRR121001, l: 559, r: 960, top: 1443, b: 1626, tx: 731.7, ty: 1436.7, clip: null }
];

const svg = d3.select("#fig");
const defs = svg.append("defs");

// underlined figure heading, cut off by the top edge of the page
svg.append("rect").attr("x", 7).attr("y", 0).attr("width", 388).attr("height", 3).attr("fill", "#000");

// chart-area bottom borders under the BAF rows
[277, 842, 1404].forEach(yy => {
  svg.append("line").attr("x1", 7).attr("x2", 486).attr("y1", yy + 0.5).attr("y2", yy + 0.5).attr("stroke", "#8C8C8C").attr("stroke-width", 1);
  svg.append("line").attr("x1", 495).attr("x2", 966).attr("y1", yy + 0.5).attr("y2", yy + 0.5).attr("stroke", "#8C8C8C").attr("stroke-width", 1);
});

const R = 4.8;
const diamond = `M0,${-R}L${R},0L0,${R}L${-R},0Z`;

panels.forEach((p, i) => {
  const g = svg.append("g");
  const x = d3.scaleLinear().domain(p.xd).range([p.l, p.r]);
  const y = d3.scaleLinear().domain(p.yd).range([p.b, p.top]);

  // horizontal gridlines
  g.append("g").attr("transform", `translate(${p.l},0)`)
    .call(d3.axisLeft(y).tickValues(p.yt).tickSize(-(p.r - p.l)).tickFormat(""))
    .call(a => a.select(".domain").remove())
    .call(a => a.selectAll("line").attr("stroke", GRID).attr("stroke-width", 1));

  // vertical axis with outside ticks and labels
  g.append("g").attr("transform", `translate(${p.l},0)`)
    .call(d3.axisLeft(y).tickValues(p.yt).tickSize(7).tickSizeOuter(0).tickPadding(14).tickFormat(fmt))
    .call(a => a.select(".domain").attr("stroke", AXIS).attr("stroke-width", 1.2))
    .call(a => a.selectAll("line").attr("stroke", AXIS).attr("stroke-width", 1))
    .call(a => a.selectAll("text").attr("fill", "#262626").attr("font-size", TICK_FS).attr("font-family", FONT));

  // horizontal axis crossing at zero
  g.append("g").attr("transform", `translate(0,${y(0)})`)
    .call(d3.axisBottom(x).tickValues(p.xt).tickSize(6).tickSizeOuter(0).tickFormat(""))
    .call(a => a.select(".domain").attr("stroke", AXIS).attr("stroke-width", 1.2))
    .call(a => a.selectAll("line").attr("stroke", AXIS).attr("stroke-width", 1));

  // rotated position labels below the plot area
  const outer = g.append("g");
  if (p.clip) {
    const id = `clip${i}`;
    defs.append("clipPath").attr("id", id).append("rect")
      .attr("x", p.l - 60).attr("y", p.b).attr("width", 520).attr("height", p.clip - p.b);
    outer.attr("clip-path", `url(#${id})`);
  }
  outer.append("g").attr("transform", `translate(0,${p.b + 21})`)
    .call(d3.axisBottom(x).tickValues(p.xt).tickSize(0).tickFormat(fmt))
    .call(a => a.select(".domain").remove())
    .call(a => a.selectAll("text")
      .attr("x", 0).attr("y", 0).attr("dy", "0.36em")
      .attr("transform", "rotate(90)")
      .attr("text-anchor", "start")
      .attr("fill", "#262626").attr("font-size", TICK_FS).attr("font-family", FONT));

  // probe values
  g.append("g").selectAll("path").data(p.pts).join("path")
    .attr("d", diamond)
    .attr("transform", d => `translate(${x(d[0])},${y(d[1])})`)
    .attr("fill", BLUE);

  // probes inside the called CNV
  g.append("g").selectAll("path").data(p.cnv).join("path")
    .attr("d", diamond)
    .attr("transform", d => `translate(${x(d[0])},${y(d[1])})`)
    .attr("fill", p.cnvColor);

  // title with italic gene name
  const tt = titles[p.t];
  const title = g.append("text")
    .attr("x", p.tx).attr("y", p.ty)
    .attr("text-anchor", "middle")
    .attr("font-family", FONT).attr("font-weight", "bold").attr("font-size", TITLE_FS)
    .attr("fill", "#000");
  title.append("tspan").text(tt[0]);
  title.append("tspan").attr("font-style", "italic").text(tt[1]);
  title.append("tspan").text(tt[2]);
});
</script>
</body>
</html>
